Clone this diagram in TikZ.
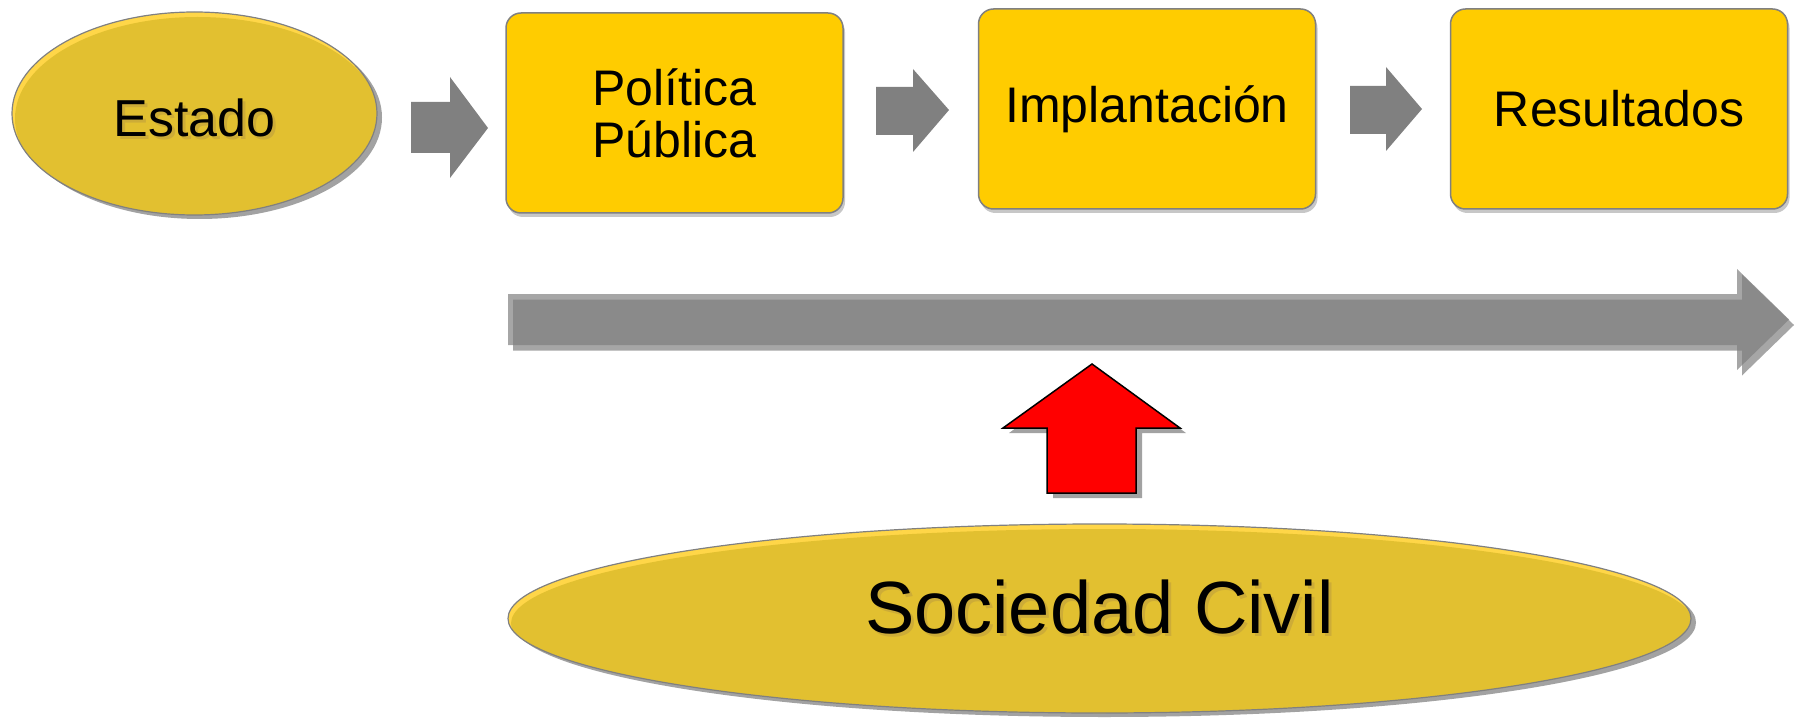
\documentclass[tikz,border=0pt]{standalone}
\usepackage{fontspec}
\setmainfont{Liberation Sans}
\usetikzlibrary{shapes.geometric,shadows}

\definecolor{mostaza}{RGB}{226,192,48}
\definecolor{mostazaclaro}{RGB}{255,214,72}
\definecolor{amarillo}{RGB}{255,204,0}
\definecolor{gris}{RGB}{128,128,128}
\definecolor{grisclaro}{RGB}{166,166,166}
\definecolor{grisoscuro}{RGB}{138,138,138}
\definecolor{sombra}{RGB}{162,162,162}
\definecolor{ocre}{RGB}{205,172,55}

\newcommand{\consombra}[1]{\rlap{\kern3pt\raisebox{-3pt}{\color{ocre}#1}}#1}

\tikzset{
caja/.style={draw=gris, line width=1.5pt, fill=amarillo, rounded corners=15pt,
  minimum width=337pt, minimum height=200pt, inner sep=0pt, align=center,
  font=\fontsize{50}{52}\selectfont,
  drop shadow={shadow xshift=2pt, shadow yshift=-4pt, fill=black!22, opacity=1}},
ovalo/.style 2 args={ellipse, draw=gris, line width=1.2pt, fill=mostazaclaro, inner sep=0pt,
  minimum width=#1pt, minimum height=#2pt,
  path picture={\fill[mostaza] ([xshift=3pt,yshift=-5pt]path picture bounding box.center)
    ellipse [x radius=#1pt/2, y radius=#2pt/2];},
  drop shadow={shadow xshift=5pt, shadow yshift=-4pt, fill=sombra, opacity=1}},
}

\begin{document}
\begin{tikzpicture}[x=1pt,y=-1pt]
\useasboundingbox (0,0) rectangle (1801,719);

\node[ovalo={365}{203}, font=\fontsize{52}{52}\selectfont, text height=47pt, text depth=0pt] (estado) at (194.5,113.5) {\consombra{Estado}};

\node[caja] (politica) at (674.5,113) {Política\\Pública};
\node[caja] (implantacion) at (1147,109) {Implantación};
\node[caja] (resultados) at (1619,109) {Resultados};

% flechas pequenas
\fill[gris] (411,102) -- (450,102) -- (450,77) -- (488,128) -- (450,178) -- (450,153) -- (411,153) -- cycle;
\fill[gris] (876,87) -- (913,87) -- (913,69) -- (949,110) -- (913,152) -- (913,135) -- (876,135) -- cycle;
\fill[gris] (1350,86) -- (1386,86) -- (1386,67) -- (1422,109) -- (1386,151) -- (1386,134) -- (1350,134) -- cycle;

% flecha larga
\def\larga{(508,294) -- (1737,294) -- (1737,269) -- (1789,319.5) -- (1737,370) -- (1737,345) -- (508,345) -- cycle}
\fill[grisclaro] \larga;
\fill[grisclaro, shift={(5,5.5)}] \larga;
\begin{scope}
\clip \larga;
\fill[grisoscuro, shift={(5,5.5)}] \larga;
\end{scope}

% flecha roja
\filldraw[fill=red, draw=black, line width=1.5pt, line join=miter,
  drop shadow={shadow xshift=6pt, shadow yshift=-5pt, fill=sombra, opacity=1}]
  (1092,364) -- (1180,428) -- (1136,428) -- (1136,493) -- (1047,493) -- (1047,428) -- (1003,428) -- cycle;

\node[ovalo={1183}{189}, font=\fontsize{74}{74}\selectfont, text height=54pt, text depth=24pt] (sociedad) at (1099.5,618.5) {\consombra{Sociedad Civil}};
\end{tikzpicture}
\end{document}
